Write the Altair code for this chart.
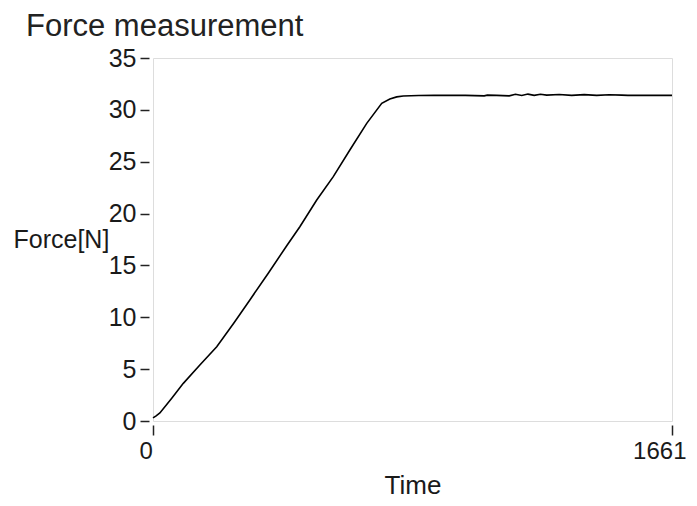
import altair as alt
import pandas as pd

title_text = "Force measurement"
x_title = "Time"
y_title = "Force[N]"

time = [0, 10, 22, 60, 97, 150, 204, 260, 310, 370, 428, 470, 524, 577, 630, 684,
        732, 758, 780, 801, 850, 900, 1000, 1060, 1070, 1100, 1140, 1160, 1180, 1200,
        1220, 1240, 1260, 1300, 1340, 1380, 1420, 1460, 1500, 1520, 1600, 1661]
force = [0.3, 0.5, 0.77, 2.2, 3.63, 5.4, 7.16, 9.5, 11.67, 14.3, 16.9, 18.73, 21.31,
         23.56, 26.13, 28.7, 30.63, 31.05, 31.25, 31.34, 31.38, 31.4, 31.4, 31.35, 31.42,
         31.4, 31.35, 31.5, 31.38, 31.52, 31.4, 31.5, 31.42, 31.48, 31.4, 31.47, 31.4,
         31.46, 31.42, 31.4, 31.4, 31.4]
x_ticks = [0, 1661]
y_ticks = [0, 5, 10, 15, 20, 25, 30, 35]

df = pd.DataFrame({"t": time, "f": force})

chart = alt.Chart(df).mark_line(color="black", strokeWidth=1.6).encode(
    x=alt.X("t:Q",
            scale=alt.Scale(domain=[0, 1661], nice=False, zero=False),
            axis=alt.Axis(values=x_ticks, format="d", title=x_title, domain=False, offset=4,
                          tickSize=10, tickColor="#222", tickWidth=1.5,
                          labelPadding=4, labelFontSize=24, labelFont="Liberation Sans",
                          labelFlush=True, labelFlushOffset=14,
                          labelColor="#1a1a1a", titleFontSize=26, titleFont="Liberation Sans",
                          titleFontWeight="normal", titleColor="#1a1a1a", titlePadding=9,
                          grid=False, labelOverlap=False)),
    y=alt.Y("f:Q",
            scale=alt.Scale(domain=[0, 35], nice=False),
            axis=alt.Axis(values=y_ticks, format="d", title=y_title, domain=False, offset=4,
                          tickSize=9, tickColor="#222", tickWidth=1.5,
                          labelPadding=4, labelFontSize=25, labelFont="Liberation Sans",
                          labelColor="#1a1a1a", titleFontSize=25, titleFont="Liberation Sans",
                          titleFontWeight="normal", titleColor="#1a1a1a",
                          titleAngle=0, titleAlign="left", titleBaseline="middle",
                          titleX=-136, titleY=181, grid=False)),
).properties(
    width=519,
    height=363,
    title=alt.TitleParams(title_text, anchor="start", frame="group", dx=-127, dy=5,
                          fontSize=31, font="Liberation Sans", fontWeight="normal",
                          color="#222", offset=8),
    autosize=alt.AutoSizeParams(type="none"),
    padding={"left": 145, "top": 50, "right": 17, "bottom": 77},
).configure_view(stroke="#111", strokeWidth=2).configure(background="white")

chart.save("out.html", embed_options={"renderer": "svg", "actions": False})
